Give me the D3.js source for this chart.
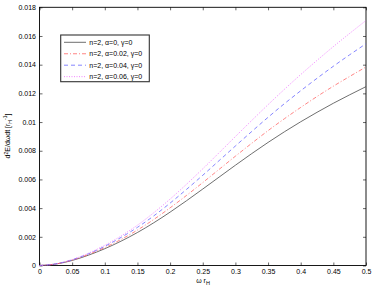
<!DOCTYPE html>
<html>
<head>
<meta charset="utf-8">
<script src="https://cdn.jsdelivr.net/npm/d3@7"></script>
<style>
  body { margin: 0; background: #fff; }
  svg { display: block; font-family: "Liberation Sans", Arial, sans-serif; }
  .axis path { display: none; }
  .axis line { stroke: #000; stroke-width: 0.6; }
  .axis text { font-size: 7px; fill: #000; }
</style>
</head>
<body>
<svg width="374" height="290"></svg>
<script>
// omega r_H samples
const omega = [0, 0.025, 0.05, 0.075, 0.1, 0.125, 0.15, 0.175, 0.2, 0.225, 0.25,
  0.275, 0.3, 0.325, 0.35, 0.375, 0.4, 0.425, 0.45, 0.475, 0.5];

// d2E/dwdt, one list per alpha
const alpha0 = [0, 0.0001, 0.00035, 0.00072, 0.00117, 0.0017, 0.0023, 0.00298, 0.00372, 0.00451, 0.00533,
  0.00616, 0.00699, 0.0078, 0.00858, 0.00932, 0.01002, 0.01068, 0.01131, 0.0119, 0.01247];
const alpha002 = [0, 0.000106, 0.000373, 0.000769, 0.00125, 0.00182, 0.00247, 0.00321, 0.00402, 0.00488, 0.00578,
  0.0067, 0.00762, 0.00852, 0.0094, 0.01023, 0.01102, 0.01178, 0.0125, 0.01318, 0.01384];
const alpha004 = [0, 0.000113, 0.000396, 0.000819, 0.00134, 0.00196, 0.00266, 0.00346, 0.00435, 0.0053, 0.00629,
  0.00731, 0.00833, 0.00934, 0.01033, 0.01128, 0.01218, 0.01305, 0.01389, 0.01469, 0.01546];
const alpha006 = [0, 0.000117, 0.000413, 0.000858, 0.00141, 0.00206, 0.00281, 0.00368, 0.00463, 0.00566, 0.00674,
  0.00786, 0.00899, 0.01011, 0.01121, 0.01228, 0.01331, 0.0143, 0.01526, 0.01618, 0.01708];

const labels = ['n=2, \u03b1=0, \u03b3=0', 'n=2, \u03b1=0.02, \u03b3=0',
  'n=2, \u03b1=0.04, \u03b3=0', 'n=2, \u03b1=0.06, \u03b3=0'];

const xTicks = [0, 0.05, 0.1, 0.15, 0.2, 0.25, 0.3, 0.35, 0.4, 0.45, 0.5];
const yTicks = [0, 0.002, 0.004, 0.006, 0.008, 0.01, 0.012, 0.014, 0.016, 0.018];

const series = [
  { values: alpha0, color: '#4a4a4a', dash: null },
  { values: alpha002, color: '#f66', dash: '4,2,1,2' },
  { values: alpha004, color: '#66f', dash: '4,3' },
  { values: alpha006, color: '#e6f', dash: '1,1.5' }
];

const plotL = 39.5, plotR = 366, plotT = 7.3, plotB = 265.5;

const x = d3.scaleLinear().domain([0, 0.5]).range([plotL, plotR]);
const y = d3.scaleLinear().domain([0, 0.018]).range([plotB, plotT]);

const svg = d3.select('svg');

// ticks pointing inward on all four sides
svg.append('g').attr('class', 'axis')
  .attr('transform', `translate(0,${plotB})`)
  .call(d3.axisBottom(x).tickValues(xTicks).tickSize(-3).tickPadding(4).tickFormat(d => String(d)));
svg.append('g').attr('class', 'axis')
  .attr('transform', `translate(${plotL},0)`)
  .call(d3.axisLeft(y).tickValues(yTicks).tickSize(-3).tickPadding(3.5).tickFormat(d => String(d)));
svg.append('g').attr('class', 'axis')
  .attr('transform', `translate(0,${plotT})`)
  .call(d3.axisTop(x).tickValues(xTicks).tickSize(-3).tickFormat(''));
svg.append('g').attr('class', 'axis')
  .attr('transform', `translate(${plotR},0)`)
  .call(d3.axisRight(y).tickValues(yTicks).tickSize(-3).tickFormat(''));

svg.append('rect')
  .attr('x', plotL).attr('y', plotT)
  .attr('width', plotR - plotL).attr('height', plotB - plotT)
  .attr('fill', 'none').attr('stroke', '#000').attr('stroke-width', 0.9);

const line = d3.line()
  .x((d, i) => x(omega[i]))
  .y(d => y(d))
  .curve(d3.curveMonotoneX);

svg.append('g').selectAll('path')
  .data(series)
  .enter().append('path')
  .attr('d', d => line(d.values))
  .attr('fill', 'none')
  .attr('stroke', d => d.color)
  .attr('stroke-width', 0.8)
  .attr('stroke-dasharray', d => d.dash);

// legend
const legend = svg.append('g');
legend.append('rect')
  .attr('x', 60.7).attr('y', 35)
  .attr('width', 88.6).attr('height', 46.7)
  .attr('fill', '#fff').attr('stroke', '#333').attr('stroke-width', 1.1);
series.forEach((s, i) => {
  const ly = 42.3 + i * 11.45;
  legend.append('line')
    .attr('x1', 64).attr('x2', 86).attr('y1', ly).attr('y2', ly)
    .attr('stroke', s.color).attr('stroke-width', 0.8)
    .attr('stroke-dasharray', s.dash);
  legend.append('text')
    .attr('x', 89.3).attr('y', ly + 2.4)
    .attr('font-size', 7)
    .text(labels[i]);
});

// axis titles
const xl = svg.append('text')
  .attr('x', 203).attr('y', 283)
  .attr('text-anchor', 'middle').attr('font-size', 7);
xl.append('tspan').text('\u03c9 r');
xl.append('tspan').attr('dy', 2).attr('font-size', 5.5).text('H');

const yl = svg.append('text')
  .attr('transform', 'translate(10,136) rotate(-90)')
  .attr('text-anchor', 'middle').attr('font-size', 7);
yl.append('tspan').text('d');
yl.append('tspan').attr('dy', -2.5).attr('font-size', 5).text('2');
yl.append('tspan').attr('dy', 2.5).text('E/d\u03c9dt  [r');
yl.append('tspan').attr('dy', 2).attr('font-size', 5).text('H');
yl.append('tspan').attr('dy', -5).attr('font-size', 5).text('-1');
yl.append('tspan').attr('dy', 3).text(']');
</script>
</body>
</html>
